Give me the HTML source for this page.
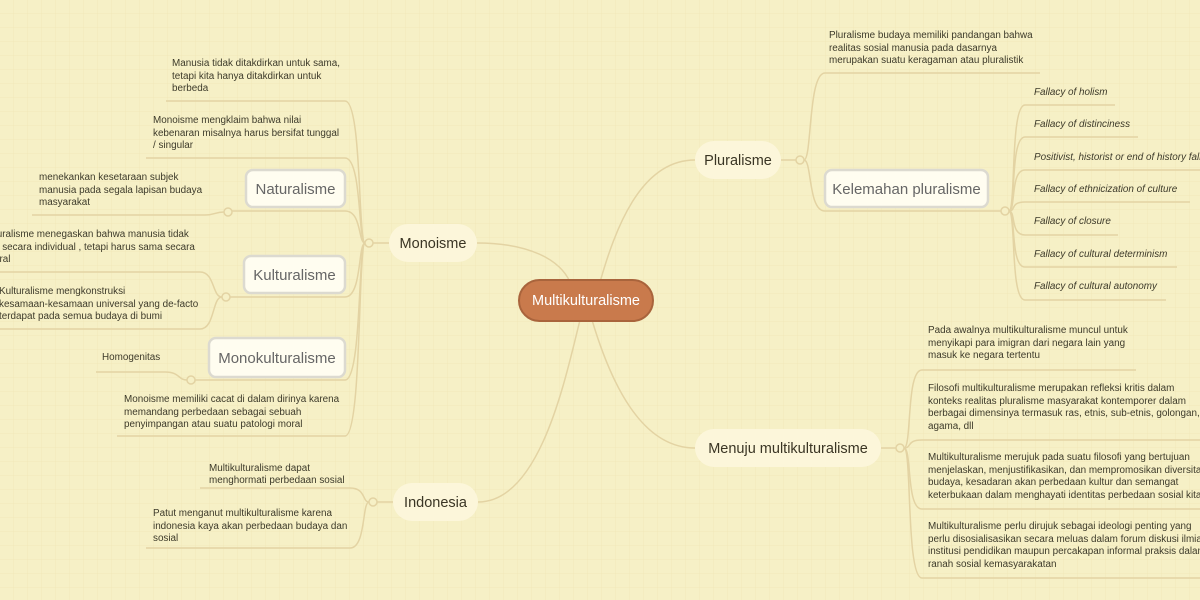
<!DOCTYPE html>
<html><head><meta charset="utf-8"><style>
html,body{margin:0;padding:0}
body{width:1200px;height:600px;overflow:hidden;background:#f6f0c6;font-family:"Liberation Sans",sans-serif}
svg{display:block}
text{font-family:"Liberation Sans",sans-serif}
.l{font-size:9.9px;fill:#3d3a2a}
.i{font-size:9.9px;fill:#3d3a2a;font-style:italic}
.c{fill:none;stroke:#e3d3a3;stroke-width:1.5}
.dot{fill:#f6f0c6;stroke:#e3d3a3;stroke-width:1.5}
.br{fill:#fcf6da}
.bt{font-size:14.5px;fill:#3a3524}
.sb{fill:#fffdf0;stroke:#dcdad0;stroke-width:2.5}
.st{font-size:15px;fill:#666}
</style></head><body>
<svg width="1200" height="600" viewBox="0 0 1200 600">
<defs><pattern id="g" width="14" height="14" patternUnits="userSpaceOnUse"><path d="M14 0V14H0" fill="none" stroke="#efe6b6" stroke-width="0.7"/></pattern></defs>
<rect width="1200" height="600" fill="url(#g)"/>

<path class="c" d="M477 243 C530 243 560 260 570 282"/>
<path class="c" d="M600 282 C615 230 640 160 695 160"/>
<path class="c" d="M592 320 C610 380 640 448 695 448"/>
<path class="c" d="M580 320 C565 380 540 502 478 502"/>

<path class="c" d="M389 243 L373 243"/>
<path class="c" d="M365 243 C358 243 362 101 345 101 L166 101"/>
<path class="c" d="M365 243 C358 243 362 158 345 158 L146 158"/>
<path class="c" d="M365 243 C358 243 362 211 345 211 L232 211"/>
<path class="c" d="M365 243 C358 243 362 297 345 297 L230 297"/>
<path class="c" d="M365 243 C358 243 362 380 345 380 L195 380"/>
<path class="c" d="M365 243 C358 243 362 436 345 436 L117 436"/>
<circle class="dot" cx="369" cy="243" r="4"/>
<path class="c" d="M224 212 C215 212 215 215 205 215 L32 215"/>
<circle class="dot" cx="228" cy="212" r="4"/>
<path class="c" d="M222 297 C212 297 215 272 200 272 L0 272"/>
<path class="c" d="M222 297 C212 297 215 329 200 329 L0 329"/>
<circle class="dot" cx="226" cy="297" r="4"/>
<path class="c" d="M187 380 C178 380 180 372 165 372 L96 372"/>
<circle class="dot" cx="191" cy="380" r="4"/>

<rect class="br" x="389" y="224" width="88" height="38" rx="19"/>
<text class="bt" x="433" y="248" text-anchor="middle">Monoisme</text>
<rect class="sb" x="246" y="170" width="99" height="37" rx="7"/>
<text class="st" x="295.5" y="194" text-anchor="middle">Naturalisme</text>
<rect class="sb" x="244" y="256" width="101" height="37" rx="7"/>
<text class="st" x="294.5" y="280" text-anchor="middle">Kulturalisme</text>
<rect class="sb" x="209" y="338" width="136" height="39" rx="7"/>
<text class="st" x="277" y="363" text-anchor="middle">Monokulturalisme</text>

<text class="l"><tspan x="172" y="66">Manusia tidak ditakdirkan untuk sama,</tspan><tspan x="172" y="79">tetapi kita hanya ditakdirkan untuk</tspan><tspan x="172" y="91">berbeda</tspan></text>
<text class="l"><tspan x="153" y="123">Monoisme mengklaim bahwa nilai</tspan><tspan x="153" y="136">kebenaran misalnya harus bersifat tunggal</tspan><tspan x="153" y="148">/ singular</tspan></text>
<text class="l"><tspan x="39" y="180">menekankan kesetaraan subjek</tspan><tspan x="39" y="193">manusia pada segala lapisan budaya</tspan><tspan x="39" y="205">masyarakat</tspan></text>
<text class="l"><tspan x="-6" y="237">turalisme menegaskan bahwa manusia tidak</tspan><tspan x="-6" y="250">a secara individual , tetapi harus sama secara</tspan><tspan x="-6" y="262">ural</tspan></text>
<text class="l"><tspan x="-1" y="294">Kulturalisme mengkonstruksi</tspan><tspan x="-1" y="307">kesamaan-kesamaan universal yang de-facto</tspan><tspan x="-1" y="319">terdapat pada semua budaya di bumi</tspan></text>
<text class="l" x="102" y="360">Homogenitas</text>
<text class="l"><tspan x="124" y="402">Monoisme memiliki cacat di dalam dirinya karena</tspan><tspan x="124" y="415">memandang perbedaan sebagai sebuah</tspan><tspan x="124" y="427">penyimpangan atau suatu patologi moral</tspan></text>

<path class="c" d="M393 502 L377 502"/>
<path class="c" d="M369 502 C362 502 366 488 350 488 L200 488"/>
<path class="c" d="M369 502 C362 502 366 548 350 548 L146 548"/>
<circle class="dot" cx="373" cy="502" r="4"/>
<rect class="br" x="393" y="483" width="85" height="38" rx="19"/>
<text class="bt" x="435.5" y="507" text-anchor="middle">Indonesia</text>
<text class="l"><tspan x="209" y="471">Multikulturalisme dapat</tspan><tspan x="209" y="483">menghormati perbedaan sosial</tspan></text>
<text class="l"><tspan x="153" y="516">Patut menganut multikulturalisme karena</tspan><tspan x="153" y="529">indonesia kaya akan perbedaan budaya dan</tspan><tspan x="153" y="541">sosial</tspan></text>

<path class="c" d="M781 160 L796 160"/>
<path class="c" d="M804 160 C812 160 808 73 825 73 L1040 73"/>
<path class="c" d="M804 160 C812 160 808 211 825 211 L1001 211"/>
<circle class="dot" cx="800" cy="160" r="4"/>
<rect class="br" x="695" y="141" width="86" height="38" rx="19"/>
<text class="bt" x="738" y="165" text-anchor="middle">Pluralisme</text>
<text class="l"><tspan x="829" y="38">Pluralisme budaya memiliki pandangan bahwa</tspan><tspan x="829" y="51">realitas sosial manusia pada dasarnya</tspan><tspan x="829" y="63">merupakan suatu keragaman atau pluralistik</tspan></text>
<rect class="sb" x="825" y="170" width="163" height="37" rx="7"/>
<text class="st" x="906.5" y="194" text-anchor="middle">Kelemahan pluralisme</text>
<g>
<path class="c" d="M1009 211 C1016 211 1010 105 1025 105 L1115 105"/>
<path class="c" d="M1009 211 C1016 211 1010 137 1025 137 L1138 137"/>
<path class="c" d="M1009 211 C1016 211 1010 170 1025 170 L1200 170"/>
<path class="c" d="M1009 211 C1016 211 1010 202 1025 202 L1190 202"/>
<path class="c" d="M1009 211 C1016 211 1010 235 1025 235 L1118 235"/>
<path class="c" d="M1009 211 C1016 211 1010 267 1025 267 L1177 267"/>
<path class="c" d="M1009 211 C1016 211 1010 300 1025 300 L1166 300"/>
<circle class="dot" cx="1005" cy="211" r="4"/>
<text class="i" x="1034" y="95">Fallacy of holism</text>
<text class="i" x="1034" y="127">Fallacy of distinciness</text>
<text class="i" x="1034" y="160">Positivist, historist or end of history fallacy</text>
<text class="i" x="1034" y="192">Fallacy of ethnicization of culture</text>
<text class="i" x="1034" y="224">Fallacy of closure</text>
<text class="i" x="1034" y="257">Fallacy of cultural determinism</text>
<text class="i" x="1034" y="289">Fallacy of cultural autonomy</text>
</g>

<path class="c" d="M881 448 L896 448"/>
<path class="c" d="M904 448 C912 448 906 370 922 370 L1136 370"/>
<path class="c" d="M904 448 C912 448 906 440 922 440 L1200 440"/>
<path class="c" d="M904 448 C912 448 906 509 922 509 L1200 509"/>
<path class="c" d="M904 448 C912 448 906 578 922 578 L1200 578"/>
<circle class="dot" cx="900" cy="448" r="4"/>
<rect class="br" x="695" y="429" width="186" height="38" rx="19"/>
<text class="bt" x="788" y="453" text-anchor="middle">Menuju multikulturalisme</text>
<text class="l"><tspan x="928" y="333">Pada awalnya multikulturalisme muncul untuk</tspan><tspan x="928" y="346">menyikapi para imigran dari negara lain yang</tspan><tspan x="928" y="358">masuk ke negara tertentu</tspan></text>
<text class="l"><tspan x="928" y="391">Filosofi multikulturalisme merupakan refleksi kritis dalam</tspan><tspan x="928" y="404">konteks realitas pluralisme masyarakat kontemporer dalam</tspan><tspan x="928" y="416">berbagai dimensinya termasuk ras, etnis, sub-etnis, golongan,</tspan><tspan x="928" y="429">agama, dll</tspan></text>
<text class="l"><tspan x="928" y="460">Multikulturalisme merujuk pada suatu filosofi yang bertujuan</tspan><tspan x="928" y="473">menjelaskan, menjustifikasikan, dan mempromosikan diversitas</tspan><tspan x="928" y="485">budaya, kesadaran akan perbedaan kultur dan semangat</tspan><tspan x="928" y="498">keterbukaan dalam menghayati identitas perbedaan sosial kita</tspan></text>
<text class="l"><tspan x="928" y="529">Multikulturalisme perlu dirujuk sebagai ideologi penting yang</tspan><tspan x="928" y="542">perlu disosialisasikan secara meluas dalam forum diskusi ilmiah</tspan><tspan x="928" y="554">institusi pendidikan maupun percakapan informal praksis dalam</tspan><tspan x="928" y="567">ranah sosial kemasyarakatan</tspan></text>

<rect x="519" y="280" width="134" height="41" rx="20.5" fill="#c97a4c" stroke="#a9643c" stroke-width="2"/>
<text x="586" y="305" text-anchor="middle" font-size="14.5" fill="#fff">Multikulturalisme</text>
</svg>
</body></html>
